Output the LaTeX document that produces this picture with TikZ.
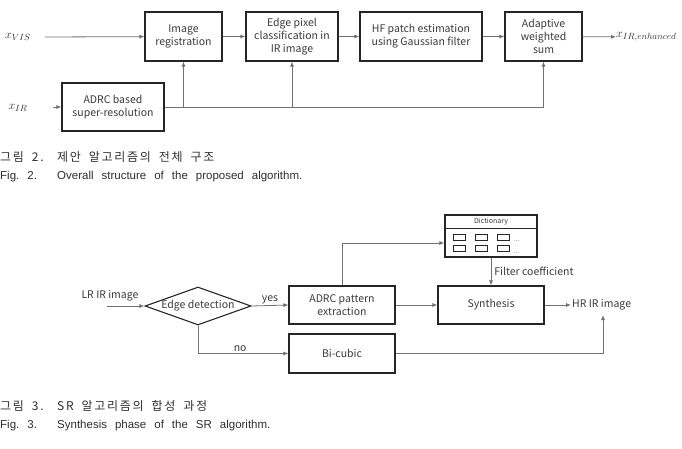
\documentclass[tikz,border=0pt]{standalone}
\usepackage{fontspec}
\setmainfont{Noto Sans CJK KR}
\newfontfamily\capfont{Liberation Sans}
\newfontfamily\krfont[LetterSpace=14]{Noto Sans CJK KR}
\newcommand\capsp{\spaceskip=8pt plus 1pt\relax}
\newcommand\krsp{\spaceskip=8pt plus 1pt\relax}
\usetikzlibrary{arrows.meta,calc,positioning,shapes.geometric}
\definecolor{bxLine}{HTML}{262626}
\definecolor{cnLine}{HTML}{707070}
\definecolor{txGray}{HTML}{3A3A3A}
\definecolor{capGray}{HTML}{2E2E2E}

\begin{document}
\begin{tikzpicture}[x=1pt,y=-1pt,
  font=\fontsize{10.5}{13}\selectfont, text=txGray,
  blk/.style={draw=bxLine, line width=1.1pt, align=center, inner sep=1pt},
  conn/.style={draw=cnLine, line width=0.8pt},
  arr/.style={conn, -{Latex[length=5pt,width=4pt]}},
  lbl/.style={inner sep=1pt},
  mathlbl/.style={inner sep=0pt, font=\fontsize{12.5}{14}\selectfont, text=black!80},
  encap/.style={anchor=west, inner sep=0pt, text=capGray,
    font=\capfont\fontsize{11.5}{13}\selectfont\capsp},
  krcap/.style={anchor=west, inner sep=0pt, text=capGray,
    font=\krfont\fontsize{12}{14}\selectfont\krsp}]
  \useasboundingbox (0,0) rectangle (682,449);

  % Fig. 2: overall structure
  \node[mathlbl] (xvis) at (18,37) {$x_{VIS}$};
  \node[mathlbl] (xir) at (18,108) {$x_{IR}$};
  \node[blk, minimum width=77pt, minimum height=49pt] (reg) at (183.5,36.5) {Image\\registration};
  \node[blk, minimum width=92pt, minimum height=49pt] (edgecls) at (292,36.5) {Edge pixel\\classification in\\IR image};
  \node[blk, minimum width=122pt, minimum height=49pt] (hfest) at (421,36.5) {HF patch estimation\\using Gaussian filter};
  \node[blk, minimum width=77pt, minimum height=49pt] (adasum) at (543.5,36.5) {Adaptive\\weighted\\sum};
  \node[blk, minimum width=102pt, minimum height=48pt] (adrcsr) at (113,107) {ADRC based\\super-resolution};
  \node[mathlbl, anchor=west] (xout) at (616,37) {$x_{IR,enhanced}$};

  \coordinate (xvisend) at (45,37);
  \coordinate (xirend) at (53,107);
  \draw[arr] (xvisend) -- (reg);
  \draw[arr] (xirend) -- (adrcsr);
  \draw[arr] (reg) -- (edgecls);
  \draw[arr] (edgecls) -- (hfest);
  \draw[arr] (hfest) -- (adasum);
  \draw[arr] (adasum) -- (xout);
  \draw[arr] (adrcsr.east) -| (adasum.south);
  \draw[arr] (adrcsr.east -| reg.south) -- (reg.south);
  \draw[arr] (adrcsr.east -| edgecls.south) -- (edgecls.south);

  % Fig. 3: synthesis phase
  \node[diamond, draw=bxLine, line width=1.1pt, minimum width=106pt, minimum height=38pt,
        inner sep=0pt] (edgedet) at (198,306) {\makebox[0pt]{Edge detection}};
  \node[blk, minimum width=106pt, minimum height=38pt] (adrcpat) at (342,305) {ADRC pattern\\extraction};
  \node[blk, minimum width=106pt, minimum height=38pt] (synth) at (491,305) {Synthesis};
  \node[blk, minimum width=106pt, minimum height=39pt] (bicubic) at (342,353.5) {Bi-cubic};
  \node[draw=bxLine, line width=1.1pt, minimum width=92pt, minimum height=42pt,
        inner sep=0pt] (dict) at (491,236) {};
  \node[lbl, font=\fontsize{7}{8}\selectfont] (dicttitle) at (491,221.5) {Dictionary};
  \draw[bxLine, line width=0.9pt] ($(dict.west)+(0,-8)$) -- ($(dict.east)+(0,-8)$);
  \foreach \cx in {459,481,503} {
    \foreach \cy in {237,248.5} {
      \draw[bxLine, line width=0.9pt] (\cx-6,\cy-3) rectangle (\cx+6,\cy+3);
    }
  }
  \node[lbl, anchor=south west, inner sep=0pt, font=\fontsize{6}{6}\selectfont] (dotsa) at (514,242) {...};
  \node[lbl, anchor=south west, inner sep=0pt, font=\fontsize{6}{6}\selectfont] (dotsb) at (514,254) {...};

  \node[lbl] (lrin) at (110,296) {LR IR image};
  \node[lbl, anchor=west] (hrout) at (571,305) {HR IR image};
  \coordinate (lrend) at (107,306);
  \coordinate (hrbelow) at (603,315);
  \draw[arr] (lrend) -- (edgedet.west);
  \draw[arr] (edgedet.east) -- node[lbl, above] {yes} (adrcpat.west);
  \draw[arr] (adrcpat) -- (synth);
  \draw[arr] (adrcpat.north) |- ($(dict.west)+(0,7)$);
  \draw[arr] (dict.south) -- node[lbl, anchor=west, xshift=2pt] {Filter coefficient} (synth.north);
  \draw[arr] (synth) -- (hrout);
  \draw[arr] (edgedet.south) |- node[lbl, pos=0.75, above, xshift=-3pt] {no} (bicubic.west);
  \draw[arr] (bicubic.east) -| (hrbelow);

  % captions
  \node[krcap] (capkra) at (0,157) {그림 2.};
  \node[krcap] (capkrb) at (57,157) {제안 알고리즘의 전체 구조};
  \node[encap] (capena) at (0,177) {Fig.\ 2.};
  \node[encap] (capenb) at (57,177) {Overall structure of the proposed algorithm.};
  \node[krcap] (capkrc) at (0,406) {그림 3.};
  \node[krcap] (capkrd) at (57,406) {SR 알고리즘의 합성 과정};
  \node[encap] (capenc) at (0,426) {Fig.\ 3.};
  \node[encap] (capend) at (57,426) {Synthesis phase of the SR algorithm.};
\end{tikzpicture}
\end{document}
